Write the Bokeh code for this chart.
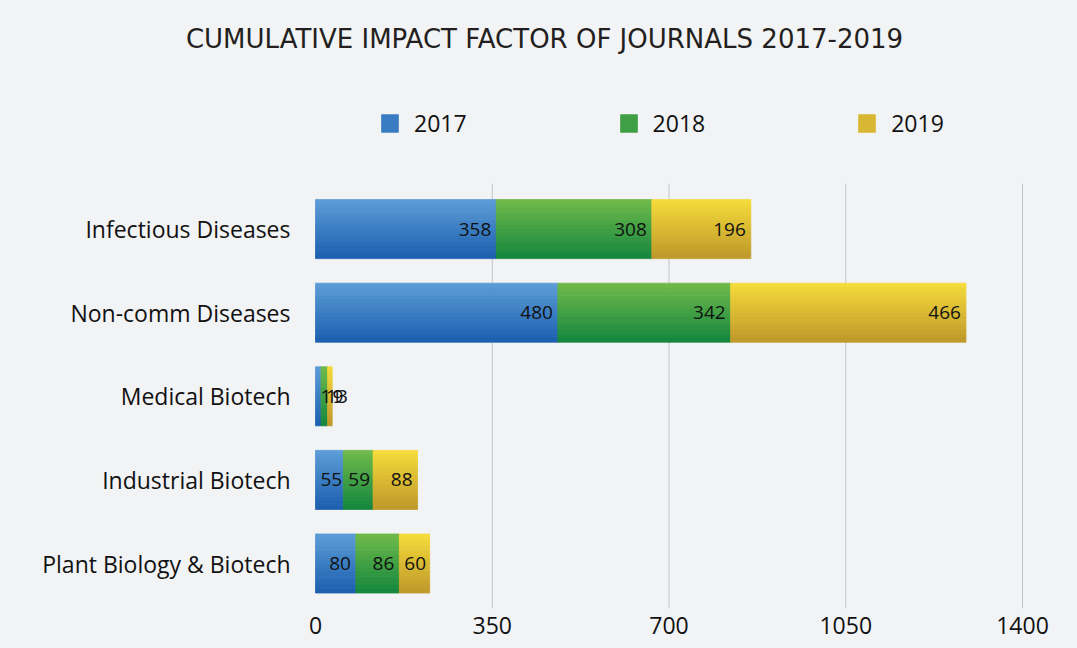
from bokeh.plotting import figure
from bokeh.models import Range1d, FixedTicker, Legend, LegendItem, Label, ColumnDataSource
from bokeh.core.properties import value
from bokeh.embed import file_html
from bokeh.resources import INLINE

# ---- data ----
categories = ["Infectious Diseases", "Non-comm Diseases", "Medical Biotech",
              "Industrial Biotech", "Plant Biology & Biotech"]
years = ["2017", "2018", "2019"]
v2017 = [358, 480, 11, 55, 80]
v2018 = [308, 342, 13, 59, 86]
v2019 = [196, 466, 9, 88, 60]
x_ticks = [0, 350, 700, 1050, 1400]
title_text = "CUMULATIVE IMPACT FACTOR OF JOURNALS 2017-2019"

series = [v2017, v2018, v2019]
grad = [((91, 156, 214), (30, 96, 176)),
        ((110, 185, 74), (22, 136, 62)),
        ((244, 218, 58), (192, 154, 43))]

BG = "#f2f3f5"
W, H = 1077, 648
BOTTOM = 40              # x-axis band below the frame
FRAME_H = H - BOTTOM
PLOT_LEFT = 315          # pixel where value 0 sits
PLOT_W = 707             # pixels for 0..1400
X_MAX = x_ticks[-1]
ppu = PLOT_W / X_MAX
BAND = 83.6              # pixels per category band
BOTTOM_PAD = 45          # pixels from last band centre to frame bottom

ncat = len(categories)
ypos = [ncat - 1 - i for i in range(ncat)]
y0 = -BOTTOM_PAD / BAND
y1 = y0 + FRAME_H / BAND

p = figure(width=W, height=H, output_backend="svg", toolbar_location=None,
           x_range=Range1d(-PLOT_LEFT / ppu, (W - PLOT_LEFT) / ppu),
           y_range=Range1d(y0, y1), y_axis_type=None,
           min_border_left=0, min_border_right=0, min_border_top=0, min_border_bottom=BOTTOM,
           background_fill_color=BG, border_fill_color=BG)
p.outline_line_color = None
p.grid.visible = False

# vertical grid lines (only across the bar area)
grid_top = max(ypos) + 0.544
p.segment(x0=x_ticks[1:], x1=x_ticks[1:], y0=[y0] * (len(x_ticks) - 1),
          y1=[grid_top] * (len(x_ticks) - 1), line_color="#c4c4c4", line_width=1)

n = 14
bar_h = 0.706
sh = bar_h / n

def mix(c1, c2, t):
    return "#%02x%02x%02x" % tuple(int(round(a + (b - a) * t)) for a, b in zip(c1, c2))

starts = [0] * ncat
legend_items = []
label_right = {"x": [], "y": [], "t": []}
label_left = {"x": [], "y": [], "t": []}
for si, vals in enumerate(series):
    left = list(starts)
    right = [a + b for a, b in zip(starts, vals)]
    mid_r = None
    for k in range(n):
        off = bar_h / 2 - sh / 2 - k * sh
        col = mix(grad[si][0], grad[si][1], k / (n - 1))
        src = ColumnDataSource(dict(y=[yy + off for yy in ypos], left=left, right=right))
        r = p.hbar(y="y", left="left", right="right", height=sh, source=src,
                   fill_color=col, line_color=col, line_width=0.8)
        if k == n // 2:
            mid_r = r
    legend_items.append(LegendItem(label=years[si], renderers=[mid_r]))
    for yy, l, rr, v in zip(ypos, left, right, vals):
        s = str(v)
        if v * ppu >= len(s) * 10.9 + 10:
            label_right["x"].append(rr); label_right["y"].append(yy); label_right["t"].append(s)
        else:
            label_left["x"].append(l); label_left["y"].append(yy); label_left["t"].append(s)
    starts = right

p.text(x="x", y="y", text="t", source=ColumnDataSource(label_right), text_align="right",
       text_baseline="middle", x_offset=-5, text_font=value("Open Sans"),
       text_font_size="19px", text_color="#111111")
p.text(x="x", y="y", text="t", source=ColumnDataSource(label_left), text_align="left",
       text_baseline="middle", x_offset=5, text_font=value("Open Sans"),
       text_font_size="19px", text_color="#111111")

# category labels
p.text(x=[x_ticks[0]] * ncat, y=ypos, text=categories, text_align="right",
       text_baseline="middle", x_offset=-25, text_font=value("Open Sans"),
       text_font_size="23px", text_color="#111111")

# x axis
ax = p.xaxis[0]
ax.ticker = FixedTicker(ticks=x_ticks)
ax.axis_line_color = None
ax.major_tick_line_color = None
ax.minor_tick_line_color = None
ax.major_tick_out = 0
ax.major_tick_in = 0
ax.major_label_text_font = "Open Sans"
ax.major_label_text_font_size = "23px"
ax.major_label_text_color = "#111111"
ax.major_label_standoff = 8

# legend
legend = Legend(items=legend_items, orientation="horizontal", location=(379, FRAME_H - 139),
                spacing=151, label_standoff=14, glyph_width=21, glyph_height=22,
                label_text_font="Open Sans", label_text_font_size="23px",
                label_text_color="#111111", background_fill_alpha=0,
                border_line_color=None, margin=0, padding=0)
p.add_layout(legend, "center")

# title
title = Label(x=544, y=FRAME_H - 38, x_units="screen", y_units="screen", text=title_text,
              text_align="center", text_baseline="middle", text_font="DejaVu Sans",
              text_font_size="26px", text_color="#231f20")
p.add_layout(title)

html = file_html(p, INLINE)
html = html.replace("<head>", "<head><style>body{background:%s;}</style>" % BG, 1)
open("out.html", "w").write(html)
